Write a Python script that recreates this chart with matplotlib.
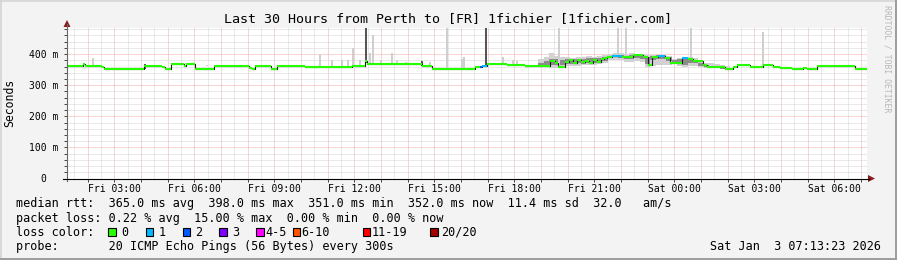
import matplotlib
matplotlib.use("Agg")
import matplotlib.pyplot as plt
from matplotlib.patches import Rectangle, Polygon

W, H, DPI = 897, 260, 100

# ---- data (time = hours since Fri 00:00, values in ms) ----
t_start, t_end = 1.223, 31.223   # Fri 01:13:23 .. Sat 07:13:23
y_top = 485.5

# median rtt, step segments: start time, value, lost pings
med_t = [1.223, 1.823, 1.91, 2.535, 2.60, 4.12, 4.785, 4.91, 5.135, 5.60,
         5.685, 6.035, 6.725, 8.037, 8.16, 8.285, 8.885, 9.098, 10.16, 11.91,
         12.41, 12.473, 14.535, 14.91, 16.535, 16.72, 16.80, 16.973, 17.71, 18.40,
         18.96, 19.335, 19.523, 19.647, 19.898, 20.05, 20.2, 20.35, 20.5, 20.65,
         20.8, 20.95, 21.1, 21.25, 21.35, 21.46, 21.65, 22.025, 22.46, 22.835,
         23.023, 23.15, 23.40, 23.65, 23.837, 24.277, 24.523, 24.712, 25.087, 25.215,
         25.90, 26.213, 26.34, 26.838, 27.338, 27.713, 27.965, 28.403, 28.838, 28.967,
         29.342, 30.777]
med_ms = [363, 367, 363, 357, 351, 363, 357, 351, 367, 363,
          367, 351, 363, 356, 351, 363, 351, 363, 360, 362,
          377, 367, 363, 351, 360, 360, 363, 367, 365, 363,
          362, 378, 372, 359, 374, 380, 372, 381, 374, 379,
          372, 380, 376, 383, 386, 392, 395, 392, 397, 392,
          365, 391, 395, 388, 372, 386, 384, 378, 365, 359,
          351, 359, 365, 359, 365, 359, 355, 351, 355, 351,
          363, 352]
med_loss = [0] * len(med_t)
for i, t in enumerate(med_t):
    if t in (16.80, 21.65, 23.40, 24.277):
        med_loss[i] = 1
    if t == 16.72:
        med_loss[i] = 2

# isolated smoke columns: time, low, high, dense
spk_t = [2.16, 4.11, 6.44, 10.67, 11.12, 11.50, 11.72, 11.91, 12.17, 12.40,
         12.55, 12.66, 12.96, 13.37, 13.56, 13.90, 14.50, 14.80, 15.44, 16.00,
         16.07, 16.90, 17.54, 17.91, 18.06, 19.64, 21.85, 22.15, 24.59, 27.29]
spk_lo = [362, 351, 362, 362, 362, 362, 362, 362, 362, 370,
          367, 367, 367, 367, 367, 367, 363, 363, 351, 351,
          351, 363, 367, 365, 365, 359, 395, 395, 384, 359]
spk_hi = [386, 368, 366, 399, 381, 381, 381, 418, 381, 483,
          402, 461, 381, 402, 381, 375, 377, 375, 486, 385,
          392, 483, 392, 381, 378, 486, 483, 486, 486, 472]
spk_dense = [False, True, False, False, False, False, False, False, False, True,
             False, False, False, False, False, False, True, False, False, False,
             False, True, False, False, False, False, False, False, False, False]

# smoke band in the busy evening stretch
band_t = [18.9, 19.1, 19.3, 19.5, 19.7, 19.9, 20.1, 20.3, 20.5, 20.7,
          20.9, 21.1, 21.3, 21.5, 21.7, 21.9, 22.1, 22.3, 22.5, 22.7,
          22.9, 23.1, 23.3, 23.5, 23.7, 23.9, 24.1, 24.3, 24.5, 24.7,
          24.9, 25.1, 25.3, 25.5, 25.7, 25.9, 26.1]
band_hi = [385, 392, 402, 395, 392, 390, 388, 392, 390, 393,
           391, 394, 396, 400, 402, 402, 400, 402, 401, 400,
           397, 397, 396, 397, 395, 385, 388, 392, 390, 388,
           378, 372, 370, 368, 366, 362, 362]
band_lo = [359, 357, 354, 356, 359, 362, 362, 363, 364, 365,
           366, 368, 372, 380, 382, 380, 376, 375, 377, 374,
           359, 361, 365, 366, 366, 372, 362, 359, 363, 362,
           358, 355, 354, 354, 352, 352, 352]
core_hi = [372, 378, 384, 383, 382, 383, 383, 385, 384, 386,
           386, 388, 391, 395, 398, 397, 395, 397, 396, 394,
           392, 394, 396, 396, 390, 380, 384, 388, 386, 382,
           370, 366, 362, 360, 358, 356, 356]
core_lo = [362, 364, 366, 365, 366, 368, 368, 370, 369, 371,
           372, 374, 378, 386, 390, 386, 384, 385, 386, 384,
           368, 380, 384, 385, 378, 374, 370, 366, 372, 370,
           362, 358, 356, 354, 352, 352, 352]

loss_names = ["0", "1", "2", "3", "4-5", "6-10", "11-19", "20/20"]
loss_colors = ["#26ff00", "#00b8ff", "#0059ff", "#7e00ff",
               "#ff00ff", "#ff5500", "#ff0000", "#a00000"]

hour_labels = {3: "Fri 03:00", 6: "Fri 06:00", 9: "Fri 09:00", 12: "Fri 12:00",
               15: "Fri 15:00", 18: "Fri 18:00", 21: "Fri 21:00", 24: "Sat 00:00",
               27: "Sat 03:00", 30: "Sat 06:00"}

title = "Last 30 Hours from Perth to [FR] 1fichier [1fichier.com]"
legend_lines = [
    "median rtt:  365.0 ms avg  398.0 ms max  351.0 ms min  352.0 ms now  11.4 ms sd  32.0   am/s",
    "packet loss: 0.22 % avg  15.00 % max  0.00 % min  0.00 % now",
    "loss color:",
    "probe:       20 ICMP Echo Pings (56 Bytes) every 300s",
]
stamp = "Sat Jan  3 07:13:23 2026"

# ---- figure ----
BG = "#f3f3f3"
MONO = "DejaVu Sans Mono"
plt.rcParams["font.family"] = MONO

fig = plt.figure(figsize=(W / DPI, H / DPI), dpi=DPI, facecolor=BG)
X0, X1, YB, YT = 67, 867, 178.5, 27.5
ax = fig.add_axes([X0 / W, 1 - YB / H, (X1 - X0) / W, (YB - YT) / H])
ax.set_facecolor("white")
ax.set_xlim(t_start, t_end)
ax.set_ylim(0, y_top)
for s in ax.spines.values():
    s.set_visible(False)

# grid
dot = (0, (1, 1))
RED_GRID, GRAY_GRID = "#f4aaaa", "#d4d4d4"
for k in range(2, 64):
    h = k / 2
    if h <= t_start or h >= t_end:
        continue
    major = (k % 2 == 0)
    ax.axvline(h, color=RED_GRID if major else GRAY_GRID, lw=0.72, ls=dot, zorder=1)
for v in range(20, int(y_top), 20):
    major = (v % 100 == 0)
    ax.axhline(v, color=RED_GRID if major else GRAY_GRID, lw=0.72, ls=dot, zorder=1)

# ticks
ax.set_xticks(range(2, 32))
ax.set_xticklabels([hour_labels.get(h, "") for h in range(2, 32)], fontsize=7)
ax.set_yticks(range(0, 500, 100))
ax.set_yticklabels(["0  ", "100 m", "200 m", "300 m", "400 m"], fontsize=7)
ax.set_yticks(range(0, 481, 20), minor=True)
ax.tick_params(axis="x", length=2, width=0.7, pad=2, color="#444444")
ax.tick_params(axis="y", which="both", length=2, width=0.7, pad=4, color="#444444")

# smoke
step = 5 / 60
ax.fill_between(band_t, band_lo, band_hi, step="post", color="#d2d2d2", lw=0, zorder=2)
ax.fill_between(band_t, core_lo, core_hi, step="post", color="#8c8c8c", lw=0, zorder=2.1)
for t, lo, hi, dense in zip(spk_t, spk_lo, spk_hi, spk_dense):
    ax.bar(t, hi - lo, bottom=lo, width=step, align="edge", lw=0,
           color="#555555" if dense else "#cfcfcf", zorder=2.2)

# median
ends = med_t[1:] + [t_end]
ax.step(med_t + [t_end], med_ms + [med_ms[-1]], where="post",
        color="#1a1a1a", lw=0.8, zorder=3)
for t0, t1, v, l in zip(med_t, ends, med_ms, med_loss):
    ax.hlines(v, t0, t1, color=loss_colors[l], lw=1.5, zorder=4)

# ---- overlay in pixel coordinates ----
ov = fig.add_axes([0, 0, 1, 1], zorder=5)
ov.set_xlim(0, W)
ov.set_ylim(H, 0)
ov.axis("off")

ov.plot([X0, X0], [YB + 2, 24], color="#666666", lw=0.8)
ov.plot([X0 - 4, X1 + 2], [YB, YB], color="#000000", lw=0.8)
ov.add_patch(Polygon([(X0 - 3.5, 27), (X0 + 3.5, 27), (X0, 20)], closed=True,
                     color="#8b1a1a", lw=0))
ov.add_patch(Polygon([(X1 + 1, YB - 3.5), (X1 + 1, YB + 3.5), (X1 + 8, YB)],
                     closed=True, color="#8b1a1a", lw=0))

ov.text(448.5, 19, title, fontsize=9.6, ha="center", va="center", color="#000000")
ov.text(10, 103, "Seconds", fontsize=8.3, rotation=90, ha="center", va="center")
ov.text(887, 59, "RRDTOOL / TOBI OETIKER", fontsize=5.9, rotation=270,
        ha="center", va="center", color="#b8b8b8")

rows_y = [204, 218.3, 232.3, 246.3]
for y, s in zip(rows_y, legend_lines):
    ov.text(16, y, s, fontsize=8.5, ha="left", va="center")
ov.text(880.7, rows_y[3], stamp, fontsize=8.5, ha="right", va="center")

box_x = [108, 145.7, 182.7, 219.3, 256, 292.7, 362.7, 430]
label_x = [121.5, 158.5, 195.5, 232.5, 265, 301.7, 371.7, 441]
for bx, lx, name, c in zip(box_x, label_x, loss_names, loss_colors):
    ov.add_patch(Rectangle((bx, rows_y[2] - 4), 7.5, 8, facecolor=c,
                           edgecolor="black", lw=0.8))
    ov.text(lx, rows_y[2], name, fontsize=8.5, ha="left", va="center")

# frame
ov.plot([0.5, W - 0.5], [0.8, 0.8], color="#d4d4d4", lw=1.2)
ov.plot([0.8, 0.8], [0.5, H - 0.5], color="#d4d4d4", lw=1.2)
ov.plot([0.5, W - 0.5], [H - 1, H - 1], color="#9c9c9c", lw=1.4)
ov.plot([W - 1, W - 1], [0.5, H - 0.5], color="#9c9c9c", lw=1.4)

fig.savefig("out.png", dpi=DPI, facecolor=BG)
